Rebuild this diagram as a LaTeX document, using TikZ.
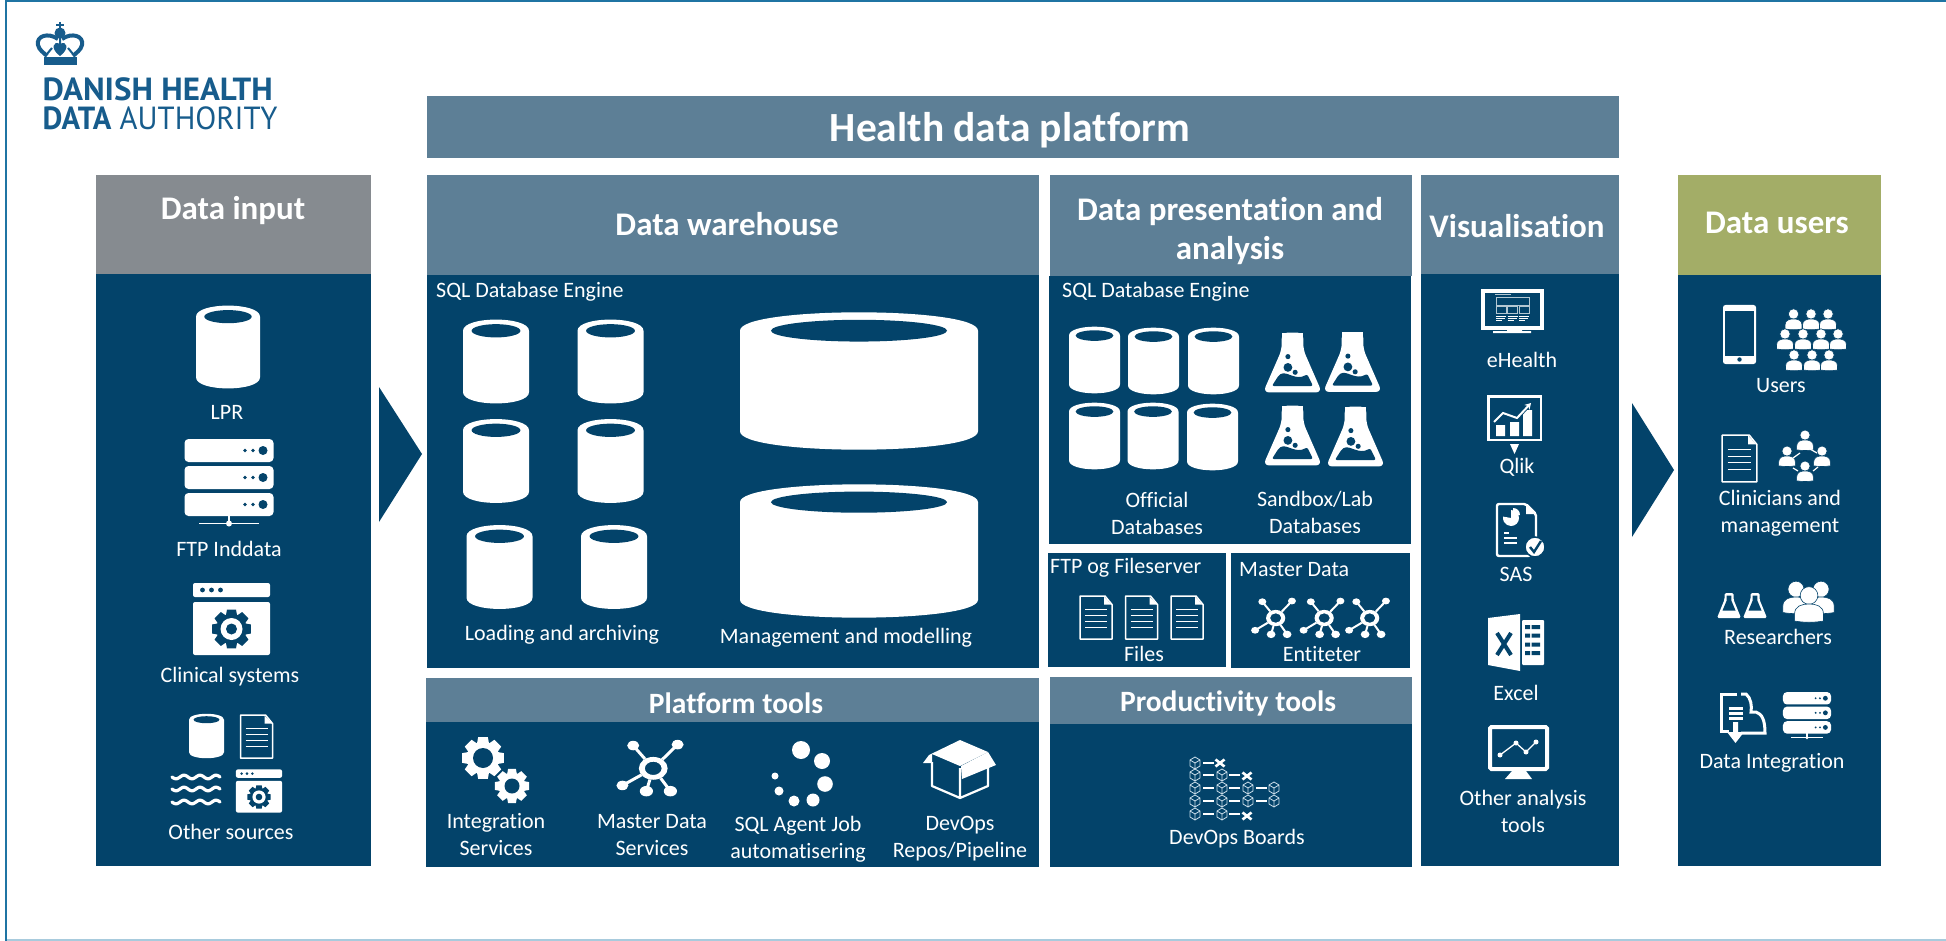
\documentclass[tikz,border=0pt]{standalone}
\usepackage{graphicx}
\usepackage{fontspec}
\setmainfont[Ligatures=CommonOff]{Carlito}
\newfontfamily\logofont{PT Sans}
\usetikzlibrary{arrows.meta}

\definecolor{panelblue}{HTML}{03436A}
\definecolor{headblue}{HTML}{5D7F96}
\definecolor{headgrey}{HTML}{868B90}
\definecolor{headolive}{HTML}{A3AD67}
\definecolor{logoblue}{HTML}{175C8C}
\definecolor{frameblue}{HTML}{1F74A3}
\definecolor{framelight}{HTML}{A8CBDD}
\definecolor{cubeline}{HTML}{C9DCE8}

% x y radius colour
\newcommand{\gearfill}[4]{%
    \foreach \a in {0,45,...,315} {
        \fill[#4] ([shift={(\a-13:#3)}]#1,#2) -- ([shift={(\a+13:#3)}]#1,#2)
            -- ([shift={(\a+24:.7*#3)}]#1,#2) -- ([shift={(\a-24:.7*#3)}]#1,#2) -- cycle;
    }
    \fill[#4] (#1,#2) circle [radius=.76*#3];
}

\tikzset{
    lbl/.style={text=white, inner sep=0pt, font=\fontsize{22}{27}\selectfont},
    ttl/.style={text=white, inner sep=0pt, font=\fontsize{33}{38.5}\selectfont\bfseries},
    subttl/.style={text=white, inner sep=0pt, font=\fontsize{29.5}{32}\selectfont\bfseries},
    logotxt/.style={text=logoblue, inner sep=0pt, anchor=west},
    panel/.style={fill=panelblue},
    dbcyl/.pic={
        \fill[white] (-1,-.74) .. controls (-1,-1.1) and (1,-1.1) .. (1,-.74) -- (1,.74)
            .. controls (1,1.1) and (-1,1.1) .. (-1,.74) -- cycle;
        \fill[panelblue] (0,-.74) ellipse [x radius=.74, y radius=.16];
    },
    docicon/.pic={
        \draw[white, line width=1.5pt, line join=round] (-16,-21.5) -- (9,-21.5) -- (16,-13)
            -- (16,21.5) -- (-16,21.5) -- cycle;
        \fill[white] (8,-21) -- (8,-13) -- (15.5,-13) -- cycle;
        \foreach \ly in {-8,-2,4,10} {
            \draw[white, line width=1.2pt] (-11,\ly) -- (11,\ly);
        }
    },
    flask/.pic={
        \fill[white, rounded corners=6pt] (-11,-30.5) -- (11,-30.5) -- (11,-13) -- (30,30.5)
            -- (-30,30.5) -- (-11,-13) -- cycle;
        \fill[white] (-11,-30.5) rectangle (11,-20);
        \fill[panelblue, rounded corners=2pt] (-21,24) -- (-14,13) .. controls (-6,8) and (3,19) .. (15,12)
            -- (21,24) -- cycle;
        \fill[panelblue] (-4.7,-6) circle [radius=2.6];
        \fill[panelblue] (-4.7,5) circle [radius=4.5];
        \fill[panelblue] (2.7,10) circle [radius=2.6];
    },
    netnode/.pic={
        \foreach \ax/\ay/\ar in {-14/-21/5, 23/-22/5, -23/21/5, -3/27/5.5, 17/27/5.5} {
            \draw[white] (2.7,3) -- (\ax,\ay);
            \fill[white] (\ax,\ay) circle [radius=\ar];
        }
        \fill[panelblue] (2.7,3) circle [radius=12];
        \fill[white, even odd rule] (2.7,3) circle [radius=12] (2.7,3) circle [radius=7];
    },
    serverstack/.pic={
        \foreach \ly in {-31,-4,23} {
            \fill[white, rounded corners=4pt] (-44.5,\ly-11.5) rectangle (44.5,\ly+11.5);
            \fill[panelblue] (34,\ly) circle [radius=4.5];
            \fill[panelblue] (24,\ly) circle [radius=1.9];
            \fill[panelblue] (16,\ly) circle [radius=1.9];
        }
        \draw[white, line width=1.3pt] (0,34) -- (0,42) (-30,42) -- (30,42);
        \fill[white] (0,42) circle [radius=3];
    },
    winicon/.pic={
        \fill[white, rounded corners=2pt] (-38.5,-22) -- (-38.5,-36) -- (38.5,-36) -- (38.5,-22) -- cycle;
        \fill[white, rounded corners=2pt] (-38.5,-17) -- (38.5,-17) -- (38.5,36) -- (-38.5,36) -- cycle;
        \foreach \lx in {-29,-20,-11} {
            \fill[panelblue] (\lx,-29) circle [radius=2.4];
        }
        \gearfill{0}{10}{20}{panelblue}
        \fill[white] (0,10) circle [radius=11];
        \fill[panelblue] (0,10) circle [radius=5.5];
    },
    person/.pic={
        \fill[white, draw=panelblue, line width=.6pt] (0,-5) circle [radius=5.2];
        \fill[white, draw=panelblue, line width=.6pt] (-8.5,10) -- (-8.5,6)
            .. controls (-8.5,1) and (-4,0) .. (0,0) .. controls (4,0) and (8.5,1) .. (8.5,6)
            -- (8.5,10) .. controls (3,11) and (-3,11) .. (-8.5,10) -- cycle;
    },
    minibox/.pic={
        \draw[cubeline, line width=.8pt] (0,-6) -- (5,-3) -- (5,3) -- (0,6) -- (-5,3) -- (-5,-3) -- cycle
            (-5,-3) -- (0,0) -- (5,-3) (0,0) -- (0,6);
    },
    xmark/.pic={
        \draw[white, line width=2.6pt] (-4.5,-3.5) -- (4.5,3.5) (-4.5,3.5) -- (4.5,-3.5);
    },
    outflask/.pic={
        \fill[white, rounded corners=1.5pt] (-4.5,-12.5) -- (4.5,-12.5) -- (4.5,-6) -- (12,12.5)
            -- (-12,12.5) -- (-4.5,-6) -- cycle;
        \fill[panelblue] (-2.3,-10) -- (2.3,-10) -- (2.3,-5) -- (6.5,5) -- (-6.5,5) -- (-2.3,-5) -- cycle;
    },
}

\begin{document}
\begin{tikzpicture}[x=1pt, y=-1pt]
    \useasboundingbox (0,0) rectangle (1946,941);

    \draw[framelight, line width=1.5pt] (6,940) -- (1946,940);
    \draw[frameblue, line width=2pt] (1946,1) -- (6,1) -- (6,941);

    % logo
    \draw[logoblue, line width=4pt] (58,39) .. controls (48,32) and (36,36) .. (38,45)
        .. controls (39,50) and (44,53) .. (47,56);
    \draw[logoblue, line width=4pt] (62,39) .. controls (72,32) and (84,36) .. (82,45)
        .. controls (81,50) and (76,53) .. (73,56);
    \fill[logoblue] (60,56) .. controls (50,49) and (53,40) .. (60,44) .. controls (67,40) and (70,49) .. (60,56) -- cycle;
    \fill[logoblue] (60,33) circle [radius=5.5];
    \draw[logoblue, line width=2pt] (60,22) -- (60,30) (56,25) -- (64,25);
    \draw[logoblue, line width=2pt] (60,38) -- (60,44) (52,48) -- (47,54) (68,48) -- (73,54);
    \fill[logoblue] (44,57) rectangle (77,65);
    \node (logoa) [logotxt] at (42.5,89) {\logofont\bfseries\fontsize{32}{32}\selectfont\scalebox{1.03}[1]{DANISH HEALTH}};
    \node (logob) [logotxt] at (42.5,118.5) {\logofont\fontsize{32}{32}\selectfont\scalebox{.96}[1]{\textbf{DATA} AUTHORITY}};

    % panels
    \fill[headblue] (427,96) rectangle (1619,158);
    \fill[headgrey] (96,175) rectangle (371,274);
    \fill[panel] (96,274) rectangle (371,866);
    \fill[headblue] (427,175) rectangle (1039,275);
    \fill[panel] (427,275) rectangle (1039,668);
    \fill[headblue] (426,678) rectangle (1039,722);
    \fill[panel] (426,722) rectangle (1039,867);
    \fill[headblue] (1050,175) rectangle (1412,276);
    \fill[panel] (1049,276) rectangle (1411,544);
    \fill[panel] (1048,553) rectangle (1226,667);
    \fill[panel] (1231,553) rectangle (1410,668);
    \fill[headblue] (1050,677) rectangle (1412,724);
    \fill[panel] (1050,724) rectangle (1412,867);
    \fill[headblue] (1421,175) rectangle (1619,274);
    \fill[panel] (1421,274) rectangle (1619,866);
    \fill[headolive] (1678,175) rectangle (1881,275);
    \fill[panel] (1678,275) rectangle (1881,866);

    % chevrons
    \fill[panelblue] (379,387) -- (422,454) -- (379,522) -- cycle;
    \fill[panelblue] (1632,403) -- (1674,470) -- (1632,537) -- cycle;

    % titles
    \node (platform) [ttl, font=\fontsize{41.5}{44}\selectfont\bfseries] at (1010,130) {Health data platform};
    \node (input) [ttl] at (233,211) {Data input};
    \node (warehouse) [ttl] at (727,224) {Data warehouse};
    \node (presentation) [ttl, align=center] at (1230,231) {Data presentation and\\analysis};
    \node (visual) [ttl] at (1517,226) {Visualisation};
    \node (users) [ttl] at (1777,223) {Data users};
    \node (ptools) [subttl] at (736,703) {Platform tools};
    \node (prodtools) [subttl] at (1228,703) {Productivity tools};

    % data input
    \pic (dblpr) [xscale=32, yscale=41] at (228,347) {dbcyl};
    \node (lpr) [lbl] at (227,412) {LPR};
    \pic (srvftp) at (229,481.5) {serverstack};
    \node (ftp) [lbl] at (229,549) {FTP Inddata};
    \pic (winclin) at (231.5,619) {winicon};
    \node (clin) [lbl] at (230,677) {Clinical systems};
    \pic (dbother) [xscale=17.5, yscale=22] at (206.5,736) {dbcyl};
    \pic (docother) at (256.5,736.5) {docicon};
    \foreach \wy in {777,789,802} {
        \draw[white, line width=3.2pt, line cap=round] plot[domain=0:48, samples=40] (\x+172,{\wy+1.8*sin(\x*22.5)});
    }
    \pic (winother) [scale=.6] at (259,791) {winicon};
    \node (other) [lbl] at (231,832) {Other sources};

    % data warehouse
    \node (sqla) [lbl, anchor=west] at (436,292) {SQL Database Engine};
    \pic (dbwa) [xscale=33, yscale=41.5] at (496,361.5) {dbcyl};
    \pic (dbwb) [xscale=33, yscale=41.5] at (610.5,361.5) {dbcyl};
    \pic (dbwc) [xscale=33, yscale=41.5] at (496,461) {dbcyl};
    \pic (dbwd) [xscale=33, yscale=41.5] at (610.5,461) {dbcyl};
    \pic (dbwe) [xscale=33, yscale=41.5] at (499.5,567) {dbcyl};
    \pic (dbwf) [xscale=33, yscale=41.5] at (614,567) {dbcyl};
    \pic (dbbiga) [xscale=119, yscale=68] at (859,381) {dbcyl};
    \pic (dbbigb) [xscale=119, yscale=66] at (859,551) {dbcyl};
    \node (loading) [lbl] at (562,635) {Loading and archiving};
    \node (mgmt) [lbl] at (846,638) {Management and modelling};

    % platform tools
    \gearfill{483}{758}{21.5}{white}
    \fill[panelblue] (483,758) circle [radius=10];
    \gearfill{512}{786}{17.5}{white}
    \fill[panelblue] (512,786) circle [radius=7.5];
    \node (integ) [lbl, align=center] at (496,835) {Integration\\Services};
    \pic (netmds) [xscale=1.2, yscale=.95, line width=3pt] at (650,765.5) {netnode};
    \node (mds) [lbl, align=center] at (652,835) {Master Data\\Services};
    \foreach \sx/\sy/\sr in {801/750/9, 822/761/8, 825/784/7.8, 813/800/6.5, 794/801/5.5, 779/791/4.5, 775/776/3.5} {
        \fill[white] (\sx,\sy) circle [radius=\sr];
    }
    \node (agent) [lbl, align=center] at (798,839.5) {SQL Agent Job\\automatisering};
    \fill[white] (923,763) -- (929,755) -- (960,740) -- (988,752) -- (960,766) -- (932,754) -- (932,763) -- cycle;
    \fill[white] (962,779) -- (996,765) -- (988,752) -- (961,766) -- cycle;
    \draw[white, line width=2.2pt, line join=round] (932,762) -- (932,786) -- (960,798) -- (988,786) -- (988,768)
        (960,768) -- (960,798);
    \node (devops) [lbl, align=center] at (960,839) {DevOps\\Repos/Pipeline};

    % data presentation
    \node (sqlb) [lbl, anchor=west] at (1062,292) {SQL Database Engine};
    \foreach \dx/\dy in {1094.5/360, 1153.5/361, 1213.5/361, 1094.5/436, 1153/436, 1212.5/437} {
        \pic [xscale=25.5, yscale=33] at (\dx,\dy) {dbcyl};
    }
    \foreach \fx/\fy in {1292.5/362.5, 1352.5/362, 1292.5/435.5, 1355.5/436.5} {
        \pic [scale=.98] at (\fx,\fy) {flask};
    }
    \node (official) [lbl, align=center] at (1157,513.5) {Official\\Databases};
    \node (sandbox) [lbl, align=center] at (1315,512.5) {Sandbox/Lab\\Databases};
    \node (ftpsrv) [lbl, anchor=west] at (1050,568) {FTP og Fileserver};
    \foreach \dx in {1096,1141.5,1187} {
        \pic at (\dx,617.5) {docicon};
    }
    \node (files) [lbl] at (1144,654) {Files};
    \node (master) [lbl, anchor=west] at (1239,570) {Master Data};
    \foreach \nx in {1273.5,1322,1367.5} {
        \pic [xscale=.8, yscale=.68, line width=2pt] at (\nx,616) {netnode};
    }
    \node (entity) [lbl] at (1322,654) {Entiteter};

    % productivity tools
    \foreach \bx/\by in {1195/763, 1195/775, 1222/775, 1195/788, 1222/788, 1248/788, 1274/788,
        1195/801, 1222/801, 1248/801, 1274/801, 1195/814, 1222/814} {
        \pic at (\bx,\by) {minibox};
    }
    \foreach \bx/\by in {1203/763, 1203/775, 1229/775, 1203/788, 1229/788, 1256/788,
        1203/801, 1229/801, 1256/801, 1203/814, 1229/814} {
        \draw[white, line width=1.6pt] (\bx,\by) -- ++(11,0);
    }
    \pic at (1220,763) {xmark};
    \pic at (1247,776) {xmark};
    \pic at (1247,816) {xmark};
    \node (boards) [lbl] at (1237,839) {DevOps Boards};

    % visualisation
    \draw[white, line width=3.5pt, fill=panelblue] (1483,291) rectangle (1542,328);
    \draw[white!70!panelblue, line width=.8pt] (1496,297) rectangle (1529,305);
    \foreach \mx in {1496,1507.5,1519} {
        \draw[white!70!panelblue, line width=.8pt] (\mx,306.5) rectangle ++(10,7);
        \draw[white, line width=1pt] (\mx,316) -- ++(10,0) (\mx,318) -- ++(9,0) (\mx,320) -- ++(6,0);
    }
    \fill[white!70!panelblue] (1495,294) rectangle (1511,295.5);
    \fill[white] (1507,329) rectangle (1522,332) (1493,331) rectangle (1531,333);
    \node (ehealth) [lbl] at (1522,360) {eHealth};
    \draw[white, line width=2.4pt] (1488.5,396.5) rectangle (1541,440);
    \fill[white] (1496,425) rectangle (1505,436) (1510,422) rectangle (1519,436) (1523,410) rectangle (1532,436);
    \draw[panelblue, line width=4pt] (1494,422) -- (1503,413) -- (1517,418) -- (1527,407);
    \draw[white, line width=2pt, -{Stealth[length=6pt,width=7pt]}] (1494,422) -- (1503,413) -- (1517,418) -- (1531,403);
    \fill[white] (1510,444) -- (1519,444) -- (1514.5,454) -- cycle;
    \node (qlik) [lbl] at (1517,467) {Qlik};
    \draw[white, line width=2.4pt, rounded corners=2pt] (1530,550) -- (1530,556) -- (1497,556) -- (1497,504) -- (1526,504) -- (1536,514) -- (1536,540);
    \fill[white] (1526,504) -- (1526,514) -- (1536,514) -- cycle;
    \fill[white] (1511,518) -- (1511,510) arc [start angle=-90, end angle=190, radius=8] -- cycle;
    \fill[white] (1513,516) -- (1513,508) .. controls (1517,508) and (1520,511) .. (1520,515) -- cycle;
    \foreach \sy/\se in {533/1509, 538/1517, 543/1517} {
        \draw[white, line width=1.6pt] (1504,\sy) -- (\se,\sy);
    }
    \fill[white, draw=panelblue, line width=1.5pt] (1535,547) circle [radius=10];
    \draw[panelblue, line width=2.4pt] (1530,547) -- (1534,552) -- (1541,541);
    \node (sas) [lbl] at (1516,574) {SAS};
    \fill[white] (1488,618) -- (1520,614) -- (1520,671) -- (1488,665) -- cycle;
    \draw[panelblue, line width=4pt] (1497,633) -- (1511,655) (1511,633) -- (1497,655);
    \fill[white, rounded corners=1pt] (1522,620) rectangle (1544,665);
    \foreach \ey in {627,635.5,644.5,653} {
        \fill[panelblue] (1525,\ey-2) rectangle (1530,\ey+2) (1531.5,\ey-2) rectangle (1540,\ey+2);
    }
    \node (excel) [lbl] at (1516,693) {Excel};
    \draw[white, line width=4pt, rounded corners=1.5pt] (1490,727) rectangle (1547,769);
    \fill[white] (1512,771) -- (1526,771) -- (1532,779) -- (1505,779) -- cycle;
    \draw[white, line width=1.3pt] (1500,755) -- (1516,743) -- (1526,752) -- (1536,742);
    \foreach \cx/\cy in {1500/755, 1516/743, 1526/752, 1536/742} {
        \fill[white] (\cx,\cy) circle [radius=2.5];
    }
    \node (other2) [lbl, align=center] at (1523,811) {Other analysis\\tools};

    % data users
    \fill[white, rounded corners=2.5pt] (1723,305) rectangle (1756,364);
    \fill[panelblue] (1725,311) rectangle (1754,356);
    \fill[panelblue] (1739.5,359.5) circle [radius=2.2];
    \foreach \ux/\uy in {1793.5/319, 1811/319, 1828/319, 1785/339, 1803/339, 1821/339, 1838/339, 1794/360, 1812/360, 1829/360} {
        \pic at (\ux,\uy) {person};
    }
    \node (usr) [lbl] at (1781,386) {Users};
    \pic (docclin) [xscale=1.08, yscale=1.09] at (1739.5,458.5) {docicon};
    \foreach \ux/\uy in {1805/440, 1787/456, 1822/456, 1805/471} {
        \pic [scale=.98] at (\ux,\uy) {person};
    }
    \draw[white, line width=1.2pt] (1793,458) -- (1800,453) (1817,453) -- (1810,449) (1793,468) -- (1798,471) (1818,467) -- (1813,471);
    \node (clinmgmt) [lbl, align=center] at (1780,513.5) {Clinicians and\\management};
    \pic at (1729,605.5) {outflask};
    \pic at (1755,605.5) {outflask};
    \pic [scale=1.55] at (1796,597) {person};
    \pic [scale=1.55] at (1821,597) {person};
    \pic [scale=1.7] at (1809,604) {person};
    \node (res) [lbl] at (1778,637) {Researchers};
    \draw[white, line width=3pt] (1737,694) -- (1721,694) -- (1721,731) -- (1729,731);
    \draw[white, line width=3pt] (1741,694) -- (1746,694) .. controls (1751,698) and (1752,706) .. (1751,712)
        -- (1756,712) .. controls (1762,714) and (1765,720) .. (1765,733) -- (1741,733);
    \foreach \iy in {708,713,718} {
        \draw[white, line width=3pt] (1729,\iy) -- (1743,\iy);
    }
    \fill[white] (1733,722) -- (1738,722) -- (1738,732) -- (1744,732) -- (1735.5,743) -- (1727,732) -- (1733,732) -- cycle;
    \pic (srvint) [scale=.54] at (1807,715) {serverstack};
    \node (dataint) [lbl] at (1772,763) {Data Integration};
\end{tikzpicture}
\end{document}
